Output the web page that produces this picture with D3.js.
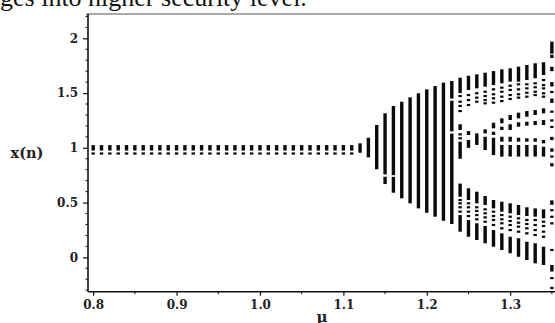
<!DOCTYPE html>
<html>
<head>
<meta charset="utf-8">
<script src="https://cdn.jsdelivr.net/npm/d3@7/dist/d3.min.js"></script>
<style>
  body { margin: 0; background: #fff; }
  svg { display: block; }
</style>
</head>
<body>
<div id="chart"></div>
<script>
// mu values where the orbit settles on the fixed point near 1
var muFixed = [0.80, 0.81, 0.82, 0.83, 0.84, 0.85, 0.86, 0.87, 0.88, 0.89,
               0.90, 0.91, 0.92, 0.93, 0.94, 0.95, 0.96, 0.97, 0.98, 0.99,
               1.00, 1.01, 1.02, 1.03, 1.04, 1.05, 1.06, 1.07, 1.08, 1.09,
               1.10, 1.11];
// spans of x(n) seen in each of those columns: [lo, hi] block, plain number = short dash
var fixedSpans = [[0.975, 1.025], 0.948];

// single wide band region
var muChaos = [1.12, 1.13, 1.14, 1.15, 1.16, 1.17, 1.18, 1.19, 1.20, 1.21, 1.22, 1.23];
var chaosSpans = [
  [[0.955, 1.041]],
  [[0.913, 1.092]],
  [[0.804, 1.208]],
  [[0.669, 0.736], [0.757, 1.315]],
  [[0.590, 0.735], [0.750, 1.382]],
  [[0.539, 1.421]],
  [[0.493, 1.461]],
  [[0.447, 1.498]],
  [[0.407, 1.534]],
  [[0.371, 1.564]],
  [[0.334, 1.595]],
  [[0.304, 1.130], [1.150, 1.430], [1.450, 1.610]]
];

// split bands region
var muBands = [1.24, 1.25, 1.26, 1.27, 1.28, 1.29, 1.30, 1.31, 1.32, 1.33, 1.34, 1.35];
var bandSpans = [
  [[1.500, 1.640], 1.473, 1.421, 1.382, 1.336, [1.163, 1.215], 1.123, 1.087, [0.900, 1.056],
   [0.553, 0.673], 0.523, 0.493, 0.457, 0.417, [0.234, 0.386]],
  [[1.528, 1.658], 1.482, 1.436, 1.391, [1.117, 1.153], [1.000, 1.071],
   [0.523, 0.630], 0.493, 0.457, 0.417, 0.377, [0.188, 0.341]],
  [[1.543, 1.671], 1.498, 1.458, 1.421, [1.026, 1.132],
   [0.493, 0.599], 0.457, 0.423, 0.386, 0.347, [0.158, 0.311]],
  [[1.558, 1.686], 1.512, 1.473, 1.436, 1.406, [1.132, 1.169], [0.980, 1.101],
   [0.478, 0.560], 0.438, 0.402, 0.365, 0.325, [0.128, 0.286]],
  [[1.573, 1.701], 1.534, 1.489, 1.452, 1.412, [1.178, 1.229], [1.117, 1.147], [0.934, 1.092],
   [0.447, 0.523], 0.417, 0.377, 0.341, 0.295, [0.097, 0.249]],
  [[1.589, 1.717], 1.549, 1.512, 1.467, 1.427, [1.224, 1.269], [1.163, 1.193], [1.056, 1.101], [0.919, 1.026],
   [0.417, 0.508], 0.386, 0.347, 0.311, 0.265, [0.067, 0.219]],
  [[1.604, 1.726], 1.567, 1.528, 1.482, 1.446, [1.254, 1.300], [1.163, 1.215], [1.056, 1.101], [0.920, 1.026],
   [0.402, 0.493], 0.371, 0.332, 0.295, 0.249, [0.037, 0.188]],
  [[1.604, 1.741], 1.580, 1.534, 1.489, 1.458, [1.269, 1.321], [1.193, 1.233], [1.056, 1.092], [0.920, 1.026],
   [0.386, 0.478], 0.356, 0.316, 0.280, 0.234, [0.005, 0.174]],
  [[1.619, 1.756], 1.580, 1.543, 1.503, 1.467, [1.284, 1.336], [1.202, 1.238], [1.056, 1.087], [0.920, 1.026],
   [0.377, 0.457], 0.341, 0.304, 0.265, 0.219, [-0.025, 0.142]],
  [[1.635, 1.772], 1.589, 1.553, 1.512, 1.482, [1.300, 1.345], [1.208, 1.245], [1.056, 1.087], [0.920, 1.026],
   [0.371, 0.447], 0.341, 0.295, 0.249, 0.204, [-0.055, 0.128]],
  [[1.665, 1.781], 1.619, 1.573, 1.543, 1.498, 1.467, [1.315, 1.361], [1.208, 1.254], [1.041, 1.071], [0.920, 1.010],
   [0.356, 0.438], 0.325, 0.286, 0.234, 0.188, [-0.070, 0.097]],
  [[1.86, 1.97], [1.82, 1.85], [1.70, 1.74], [1.56, 1.60], 1.51, [1.41, 1.45], 1.33, 1.25, 1.19,
   [1.07, 1.10], [0.964, 0.995], 0.92, [0.83, 0.86], [0.48, 0.52], 0.43, 0.37, 0.31, 0.067,
   [-0.13, -0.07], -0.19, -0.28]
];

var xMajor = [0.8, 0.9, 1.0, 1.1, 1.2, 1.3];
var xMinor = [0.85, 0.95, 1.05, 1.15, 1.25, 1.35];
var yMajor = [0, 0.5, 1, 1.5, 2];
var yMinor = [-0.3, -0.2, -0.1, 0.1, 0.2, 0.3, 0.4, 0.6, 0.7, 0.8, 0.9,
              1.1, 1.2, 1.3, 1.4, 1.6, 1.7, 1.8, 1.9, 2.1, 2.2];

var captionText = "ges into higher security level.";
var xLabelText = "\u03bc";
var yLabelText = "x(n)";

var svgWidth = 555, svgHeight = 323;
var plotLeft = 88, plotTop = 14, plotBottom = 291.7;
var colWidth = 3.4;
var labelFont = "'DejaVu Serif', serif";

var svg = d3.select("#chart").append("svg")
  .attr("width", svgWidth)
  .attr("height", svgHeight);

var x = d3.scaleLinear().domain([0.7938, 1.36]).range([plotLeft, plotLeft + 0.5662 * 834]);
var y = d3.scaleLinear().domain([-0.314, 2.222]).range([plotBottom, plotTop]);

// collect columns into one flat list of marks
var columns = [];
muFixed.forEach(function (m) { columns.push({ mu: m, spans: fixedSpans }); });
muChaos.forEach(function (m, i) { columns.push({ mu: m, spans: chaosSpans[i] }); });
muBands.forEach(function (m, i) { columns.push({ mu: m, spans: bandSpans[i] }); });

var marks = [];
columns.forEach(function (c) {
  c.spans.forEach(function (s) {
    if (typeof s === "number") marks.push({ mu: c.mu, lo: s, hi: s, dash: true });
    else marks.push({ mu: c.mu, lo: s[0], hi: s[1], dash: false });
  });
});

var plot = svg.append("g");
plot.selectAll("rect.mark").data(marks).enter().append("rect")
  .attr("class", "mark")
  .attr("x", function (d) { return x(d.mu) - colWidth / 2; })
  .attr("width", colWidth)
  .attr("y", function (d) {
    if (d.dash) return y(d.lo) - 1.1;
    return y(d.hi);
  })
  .attr("height", function (d) {
    if (d.dash) return 2.2;
    return Math.max(2, y(d.lo) - y(d.hi));
  })
  .attr("fill", "#0a0a0a");

// frame: top border, left and bottom axes
svg.append("line")
  .attr("x1", plotLeft - 2).attr("x2", svgWidth)
  .attr("y1", plotTop).attr("y2", plotTop)
  .attr("stroke", "#555").attr("stroke-width", 1.2);

var xAxis = d3.axisBottom(x).tickValues(xMajor).tickSize(4)
  .tickFormat(d3.format(".1f"));
var xAxisG = svg.append("g")
  .attr("transform", "translate(0," + plotBottom + ")")
  .call(xAxis);
xAxisG.select(".domain").remove();
xAxisG.append("line")
  .attr("x1", plotLeft).attr("x2", svgWidth)
  .attr("stroke", "#111").attr("stroke-width", 1.6);
xAxisG.selectAll(".minor").data(xMinor).enter().append("line")
  .attr("class", "minor")
  .attr("x1", function (d) { return x(d); }).attr("x2", function (d) { return x(d); })
  .attr("y1", 0).attr("y2", 2.5)
  .attr("stroke", "#111");
xAxisG.selectAll(".tick line").attr("stroke", "#111").attr("stroke-width", 1.2);
xAxisG.selectAll(".tick text")
  .attr("y", 9).attr("dy", "0.71em")
  .style("font-family", labelFont).style("font-weight", "bold")
  .style("font-size", "12px").style("fill", "#222");

var yAxis = d3.axisLeft(y).tickValues(yMajor).tickSize(5)
  .tickFormat(d3.format("~g"));
var yAxisG = svg.append("g")
  .attr("transform", "translate(" + plotLeft + ",0)")
  .call(yAxis);
yAxisG.select(".domain").remove();
yAxisG.append("line")
  .attr("y1", plotTop).attr("y2", plotBottom)
  .attr("stroke", "#111").attr("stroke-width", 1.6);
yAxisG.selectAll(".minor").data(yMinor).enter().append("line")
  .attr("class", "minor")
  .attr("y1", function (d) { return y(d); }).attr("y2", function (d) { return y(d); })
  .attr("x1", 0).attr("x2", -2.5)
  .attr("stroke", "#111");
yAxisG.selectAll(".tick line").attr("stroke", "#111").attr("stroke-width", 1.2);
yAxisG.selectAll(".tick text")
  .attr("x", -10)
  .style("font-family", labelFont).style("font-weight", "bold")
  .style("font-size", "12px").style("fill", "#222");

// axis titles
svg.append("text")
  .attr("x", 27).attr("y", 158)
  .attr("text-anchor", "middle")
  .style("font-family", labelFont).style("font-weight", "bold")
  .style("font-size", "14.5px").style("fill", "#222")
  .text(yLabelText);

svg.append("text")
  .attr("x", 322).attr("y", 322)
  .attr("text-anchor", "middle")
  .style("font-family", labelFont).style("font-weight", "bold")
  .style("font-size", "15px").style("fill", "#222")
  .text(xLabelText);

// cut-off caption line from the surrounding page
svg.append("text")
  .attr("x", 0).attr("y", 6)
  .style("font-family", "'Liberation Serif', 'Times New Roman', serif")
  .style("font-size", "26px").style("fill", "#111")
  .text(captionText);
</script>
</body>
</html>
